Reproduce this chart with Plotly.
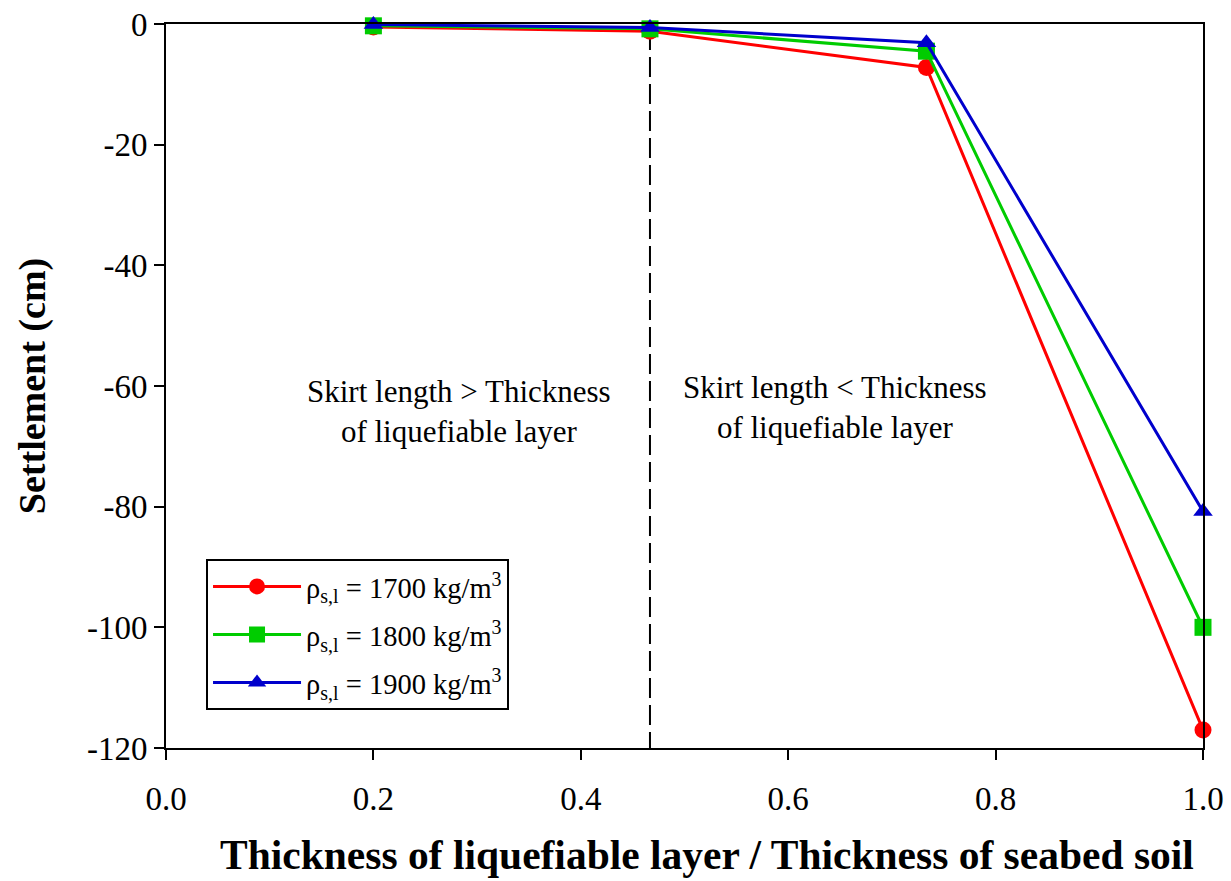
import plotly.graph_objects as go

x_ratio = [0.2, 0.4667, 0.7333, 1.0]
rho_1700 = [-0.5, -1.2, -7.2, -117.0]
rho_1800 = [-0.3, -0.8, -4.5, -100.0]
rho_1900 = [-0.1, -0.6, -3.1, -80.8]
series_names = ["ρ<sub>s,l</sub> = 1700 kg/m<sup>3</sup>",
                "ρ<sub>s,l</sub> = 1800 kg/m<sup>3</sup>",
                "ρ<sub>s,l</sub> = 1900 kg/m<sup>3</sup>"]
colors = ["#ff0000", "#00cc00", "#0000cc"]
symbols = ["circle", "square", "triangle-up"]
divider_x = [0.4667, 0.4667]
divider_y = [-1.0, -120.0]
x_ticks = [0.0, 0.2, 0.4, 0.6, 0.8, 1.0]
y_ticks = [0, -20, -40, -60, -80, -100, -120]

FONT = "Liberation Serif, Times New Roman, serif"

fig = go.Figure()
fig.add_trace(go.Scatter(x=divider_x, y=divider_y, mode="lines",
                         line=dict(color="black", width=2, dash="20px,7px"),
                         showlegend=False, hoverinfo="skip"))
for i, (vals, name, c, s) in enumerate(zip([rho_1700, rho_1800, rho_1900], series_names, colors, symbols)):
    fig.add_trace(go.Scatter(x=x_ratio, y=vals, mode="lines+markers", name=name,
                             legendgroup=f"g{i}",
                             line=dict(color=c, width=3),
                             marker=dict(symbol=s, size=17, color=c),
                             cliponaxis=False))

fig.add_annotation(x=0.2825, y=-64.3, xref="x", yref="y",
                   text="Skirt length > Thickness<br>of liquefiable layer",
                   showarrow=False, font=dict(family=FONT, size=31, color="black"))
fig.add_annotation(x=0.645, y=-63.6, xref="x", yref="y",
                   text="Skirt length < Thickness<br>of liquefiable layer",
                   showarrow=False, font=dict(family=FONT, size=31, color="black"))
fig.add_annotation(x=0.522, y=-0.1825, xref="paper", yref="paper",
                   xanchor="center", yanchor="bottom",
                   text="<b>Thickness of liquefiable layer / Thickness of seabed soil</b>",
                   showarrow=False, font=dict(family=FONT, size=41.5, color="black"))

fig.update_layout(
    width=1231, height=881,
    margin=dict(l=166, r=28, t=24, b=133),
    paper_bgcolor="white", plot_bgcolor="white",
    font=dict(family=FONT, size=28, color="black"),
    legend=dict(x=0.0386, y=0.052, xanchor="left", yanchor="bottom",
                bordercolor="black", borderwidth=2, bgcolor="white",
                font=dict(family=FONT, size=28.5), itemwidth=88, tracegroupgap=8),
    xaxis=dict(range=[0, 1.0], tickvals=x_ticks, ticktext=[f"{v:.1f}" for v in x_ticks],
               showgrid=False, zeroline=False, showline=True, linecolor="black",
               linewidth=2, mirror=True, ticks="outside", ticklen=10, tickwidth=2,
               tickcolor="black", tickfont=dict(family=FONT, size=33),
               ticklabelstandoff=10, automargin=False),
    yaxis=dict(range=[-120, 0], tickvals=y_ticks, ticktext=[str(v) for v in y_ticks],
               showgrid=False, zeroline=False, showline=True, linecolor="black",
               linewidth=2, mirror=True, ticks="outside", ticklen=10, tickwidth=2,
               tickcolor="black", tickfont=dict(family=FONT, size=33),
               automargin=False,
               title=dict(text="<b>Settlement (cm)</b>",
                          font=dict(family=FONT, size=38), standoff=30)),
)

fig.write_html("out.html")
